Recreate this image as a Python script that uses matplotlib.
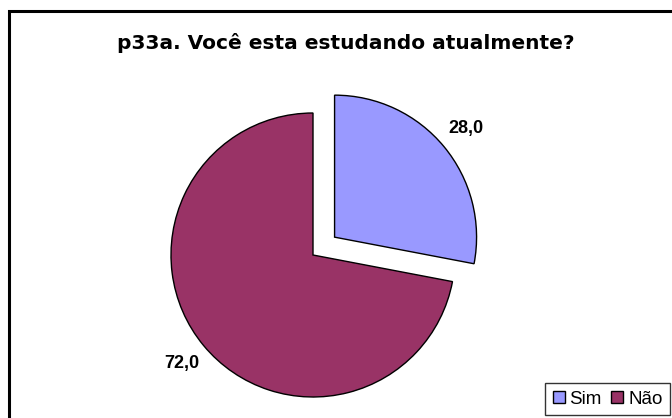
import matplotlib
matplotlib.use("Agg")
import matplotlib.pyplot as plt
from matplotlib.patches import Rectangle

categories = ["Sim", "Não"]
values = [28.0, 72.0]
colors = ["#9999FF", "#993366"]
title = "p33a. Você esta estudando atualmente?"

W, H = 672, 418
fig = plt.figure(figsize=(W / 100, H / 100), dpi=100)
ax = fig.add_axes([0, 0, 1, 1])
ax.set_xlim(0, W)
ax.set_ylim(0, H)
ax.set_aspect("equal")
ax.axis("off")

# outer chart border
ax.add_patch(Rectangle((9, -20), W + 20, H - 11 + 20, fill=False, edgecolor="black", lw=2.2))

labels = [f"{v:.1f}".replace(".", ",") for v in values]
wedges, texts = ax.pie(values, labels=labels, colors=colors, startangle=90, counterclock=False,
                       explode=[28, 0], center=(313, H - 255), radius=142, labeldistance=1.2,
                       wedgeprops=dict(edgecolor="black", linewidth=1.0),
                       textprops=dict(fontsize=13, fontweight="bold", family="Liberation Sans"))
for t in texts:
    t.set_ha("center")
    t.set_va("center")
ax.set_xlim(0, W)
ax.set_ylim(0, H)

fig.text(346 / W, 1 - 43 / H, title, ha="center", va="center", fontsize=14.5,
         fontweight="bold", family="DejaVu Sans")

leg = fig.legend(wedges, categories, loc="lower right", bbox_to_anchor=(670 / W, 3 / H),
                 ncol=2, frameon=True, fancybox=False, edgecolor="black",
                 prop=dict(family="Liberation Sans", size=13.5), handlelength=0.65, handleheight=0.65,
                 handletextpad=0.25, columnspacing=0.5, borderpad=0.4, borderaxespad=0)
leg.get_frame().set_linewidth(1.0)
fig.savefig("out.png", dpi=100, facecolor="white")
